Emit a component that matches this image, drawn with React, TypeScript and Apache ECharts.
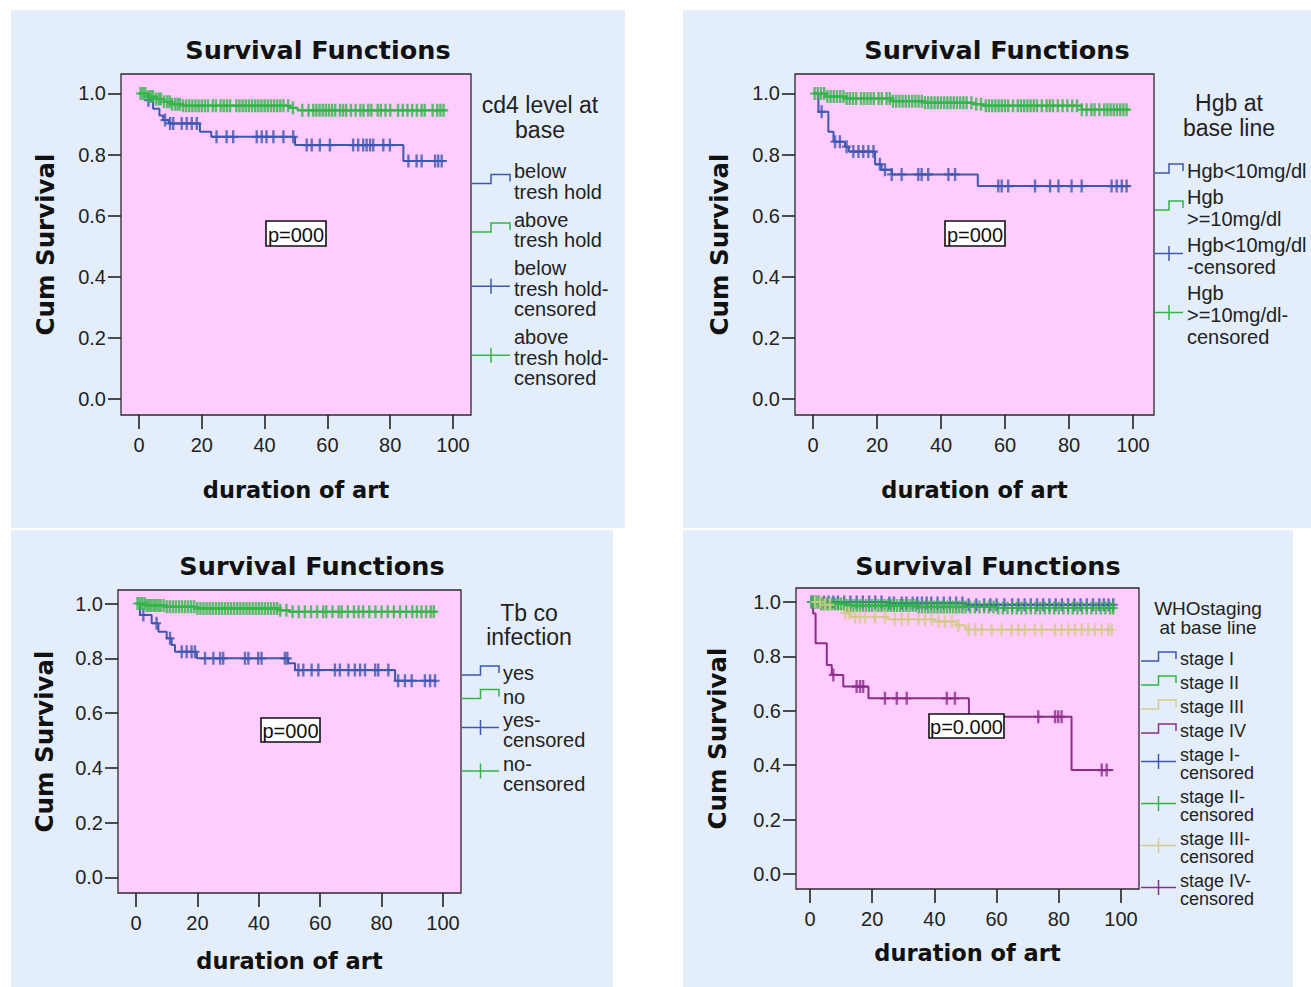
import React, { useEffect, useRef } from "react";
import * as echarts from "echarts";

type Step = [number, number];

// ---------------- data ----------------
const xTicks = [0, 20, 40, 60, 80, 100];
const yTicks = [0, 0.2, 0.4, 0.6, 0.8, 1.0];

// Panel 1: cd4 level at base
const cd4Legend = ["below\ntresh hold", "above\ntresh hold", "below\ntresh hold-\ncensored", "above\ntresh hold-\ncensored"];
const cd4BelowSteps: Step[] = [[0, 1], [3, 0.978], [4.5, 0.95], [6.5, 0.928], [7.7, 0.913], [9.5, 0.902], [19.4, 0.875], [23, 0.858], [49.7, 0.831], [84.2, 0.779], [98, 0.779]];
const cd4AboveSteps: Step[] = [[0, 1], [3, 0.99], [5.5, 0.982], [8, 0.973], [10.5, 0.965], [14, 0.96], [48, 0.953], [50.5, 0.945], [98, 0.945]];
const cd4BelowCensored = [3.0, 8.3, 9.9, 10.9, 13.6, 15.2, 16.8, 18.4, 24.7, 27.9, 30.0, 37.5, 39.1, 40.6, 42.8, 46.0, 49.1, 53.4, 55.0, 57.6, 60.8, 68.2, 69.8, 71.4, 72.5, 73.6, 74.6, 77.8, 79.9, 85.8, 88.4, 90.0, 94.3, 95.3, 96.4];
const cd4AboveCensored = [0.5, 1.2, 2, 3, 3.8, 4.5, 5.5, 6.3, 7, 8, 9, 9.8, 10.5, 11.5, 12.3, 13, 14, 15, 16, 17, 18, 19, 20, 21, 22, 23.5, 24.5, 26, 27, 28, 29, 31, 32, 33, 34, 35, 36, 37, 38, 39, 40, 41, 42, 43, 44, 45, 46, 47.5, 49, 52, 54, 55.5, 56.5, 57.5, 58.5, 59.5, 60.5, 61.5, 62.5, 64, 65, 66, 67.5, 69, 70.5, 71.5, 73, 74, 76, 77, 78.5, 80, 82.5, 84, 85.5, 87, 88.5, 90, 91, 93.5, 95, 96, 97];

// Panel 2: Hgb at base line
const hgbLegend = ["Hgb<10mg/dl", "Hgb\n>=10mg/dl", "Hgb<10mg/dl\n-censored", "Hgb\n>=10mg/dl-\ncensored"];
const hgbLowSteps: Step[] = [[0, 1], [1.7, 0.94], [4.8, 0.875], [6.4, 0.842], [10, 0.826], [11.2, 0.81], [19.4, 0.768], [21.4, 0.75], [24.6, 0.735], [51.5, 0.697], [99, 0.697]];
const hgbHighSteps: Step[] = [[0, 1], [4, 0.99], [10, 0.984], [25, 0.975], [35, 0.97], [50, 0.965], [53, 0.96], [84, 0.947], [99, 0.947]];
const hgbLowCensored = [2.7, 6.9, 8.4, 10.5, 12.6, 14.2, 15.7, 17.3, 18.9, 20.9, 22.5, 24.6, 27.7, 32.9, 33.95, 36.0, 42.3, 44.4, 57.9, 58.96, 61.0, 69.4, 74.1, 76.7, 80.8, 83.96, 93.3, 94.9, 96.5, 98.0];
const hgbHighCensored = [0.5, 1.5, 2.5, 3.5, 4.5, 5.5, 6.5, 7.5, 8.5, 9.5, 10.5, 11.5, 12.5, 13.5, 15, 16, 17, 18, 19, 20.5, 21.5, 23, 24, 25, 26, 27, 28, 29, 30, 31, 32, 33, 34, 35, 36, 37, 38, 39, 40, 41, 42, 43, 44, 45, 46, 47, 48, 49.5, 51, 52.5, 54, 55, 56, 57, 58, 59, 60, 61, 62.5, 64, 65, 66, 67, 68, 69, 70, 71.5, 73, 74, 75, 76.5, 78, 79.5, 81, 82.5, 84, 85.5, 87, 88, 89.5, 91, 92, 93, 94, 95, 96, 97, 98];

// Panel 3: Tb co infection
const tbLegend = ["yes", "no", "yes-\ncensored", "no-\ncensored"];
const tbYesSteps: Step[] = [[0, 1], [1.3, 0.958], [5.1, 0.928], [7.3, 0.897], [10, 0.873], [11.6, 0.849], [12.7, 0.824], [19.8, 0.8], [49.6, 0.782], [51.8, 0.757], [84.4, 0.718], [98, 0.718]];
const tbNoSteps: Step[] = [[0, 1], [3, 0.993], [10, 0.988], [20, 0.982], [47, 0.975], [50, 0.97], [98, 0.97]];
const tbYesCensored = [2.4, 6.7, 11.1, 14.9, 16.5, 18.1, 19.2, 22.5, 25.2, 27.4, 28.4, 35.5, 36.6, 39.8, 40.9, 48.5, 49.3, 52.9, 54.5, 57.2, 59.4, 64.8, 66.4, 69.2, 71.3, 73.0, 74.6, 77.9, 78.9, 82.2, 85.4, 87.6, 89.8, 94.1, 95.8, 97.4];
const tbNoCensored = [0.5, 1.2, 2, 2.8, 3.5, 4.3, 5, 5.8, 6.5, 7.3, 8, 9, 10, 11, 12, 13, 14, 15, 16, 17, 18, 19, 20, 21, 22, 23, 24, 25, 26, 27, 28, 29, 30, 31, 32, 33, 34, 35, 36, 37, 38, 39, 40, 41, 42, 43, 44, 45, 46, 47, 49, 51, 53, 55, 57, 59, 61, 62, 64, 66, 67, 69, 71, 72.5, 74, 76, 78, 80, 82, 84, 86, 88, 90, 91.5, 93, 94.5, 96, 97];

// Panel 4: WHO staging at base line
const whoLegend = ["stage I", "stage II", "stage III", "stage IV", "stage I-\ncensored", "stage II-\ncensored", "stage III-\ncensored", "stage IV-\ncensored"];
const stage1Steps: Step[] = [[0, 1], [25, 0.996], [50, 0.99], [98, 0.99]];
const stage2Steps: Step[] = [[0, 1], [3, 0.993], [12, 0.987], [35, 0.982], [60, 0.978], [98, 0.978]];
const stage3Steps: Step[] = [[0, 1], [4, 0.99], [8, 0.975], [11, 0.96], [13, 0.945], [25, 0.937], [40, 0.928], [47, 0.915], [50, 0.898], [97, 0.898]];
const stage4Steps: Step[] = [[0, 1], [1, 0.958], [1.8, 0.848], [5.4, 0.768], [7, 0.732], [10.7, 0.689], [18.8, 0.646], [51.1, 0.578], [84.1, 0.382], [97.5, 0.382]];
const stage1Censored = [0.5, 1.5, 3, 4.5, 6, 7.5, 9, 11, 13, 15, 17, 19, 21, 23, 25.5, 27, 29.5, 31, 33, 34.5, 36, 37.5, 39, 41, 43, 45, 47, 49, 51, 53.5, 56, 58, 60, 62.5, 65, 67, 69, 71, 73, 75, 77, 79, 81, 83, 85, 87, 89, 91, 93, 94.5, 96, 97.5];
const stage2Censored = [0.5, 1.2, 2, 2.8, 3.6, 4.4, 5.2, 6, 7, 8, 9, 10, 11, 12, 13, 14, 15, 16, 17, 18, 19, 20, 21, 22, 23, 24, 25, 26, 27, 28, 29, 30, 31, 32, 33, 34, 35, 36, 37, 38, 39, 40, 41, 42, 43, 44, 45, 46, 47, 48, 49, 50, 51.5, 53, 54.5, 56, 57.5, 59, 60.5, 62, 63.5, 65, 66.5, 68, 69.5, 71, 72.5, 74, 75.5, 77, 78.5, 80, 81.5, 83, 84.5, 86, 87.5, 89, 90.5, 92, 93.5, 95, 96.5, 97.5];
const stage3Censored = [1.6, 3.2, 4.8, 6.4, 11.3, 12.5, 14.5, 16, 17.7, 20.9, 24.1, 27.3, 29.5, 31.6, 34.9, 37.0, 39.1, 41.3, 43.4, 45.6, 47.7, 51, 53.1, 55.2, 58.4, 61.6, 64.8, 67.0, 69.1, 72.3, 74.5, 78.8, 80.9, 83.1, 85.2, 87.4, 89.5, 91.6, 93.8, 95.9, 97];
const stage4Censored = [7.5, 15.0, 16.1, 17.1, 24.1, 27.9, 31.1, 44.0, 46.6, 73.4, 78.8, 79.8, 80.9, 93.8, 95.4];

// ---------------- styling / layout ----------------
const BLUE = "#3E58AE";
const GREEN = "#33B548";
const KHAKI = "#D3CB8C";
const PURPLE = "#8A2E8A";
const PANEL_BG = "#E3EEFA";
const PLOT_BG = "#FFCCFF";
const SANS = '"Liberation Sans", Arial, sans-serif';
const BOLD = '"DejaVu Sans", Verdana, sans-serif';
const PLUS = "path://M3.4,0h2.4v13h-2.4z M0,5.4h9.2v2.2h-9.2z";

const survAt = (steps: Step[], t: number) => {
  let s = steps[0][1];
  for (const [x, y] of steps) {
    if (x <= t) s = y;
    else break;
  }
  return s;
};

interface Panel {
  bg: [number, number, number, number];
  frame: [number, number, number, number];
  xr: [number, number];
  yr: [number, number];
  title: [number, number];
  xGap: number;
  yGap: number;
  legTitle: { text: string; x: number; y: number; size: number; lh: number };
  leg: { left: number; top: number; w: number; lh: number; gap: number; size: number };
  pBox: { text: string; x: number; y: number; w: number; h: number };
}

const panels: Panel[] = [
  {
    bg: [11, 10, 614, 518], frame: [121, 74, 350, 341], xr: [-5.73, 105.73], yr: [-0.0524, 1.0638],
    title: [318, 50], xGap: 63, yGap: 63,
    legTitle: { text: "cd4 level at\nbase", x: 540, y: 117.5, size: 23, lh: 25 },
    leg: { left: 472, top: 161, w: 38, lh: 20.5, gap: 7.5, size: 20 },
    pBox: { text: "p=000", x: 266, y: 221, w: 60, h: 25 },
  },
  {
    bg: [683, 10, 628, 518], frame: [795, 74, 359, 341], xr: [-5.625, 106.56], yr: [-0.0524, 1.0638],
    title: [997, 50], xGap: 63, yGap: 63,
    legTitle: { text: "Hgb at\nbase line", x: 1229, y: 115.5, size: 23, lh: 25 },
    leg: { left: 1155, top: 160, w: 28, lh: 22, gap: 4, size: 20 },
    pBox: { text: "p=000", x: 945, y: 221, w: 60, h: 25 },
  },
  {
    bg: [11, 530, 602, 457], frame: [118, 590, 343, 303], xr: [-5.86, 105.86], yr: [-0.0566, 1.0493],
    title: [312, 566], xGap: 56, yGap: 61,
    legTitle: { text: "Tb co\ninfection", x: 529, y: 625, size: 23, lh: 24 },
    leg: { left: 462, top: 663, w: 37, lh: 20, gap: 3.5, size: 20 },
    pBox: { text: "p=000", x: 261, y: 718, w: 59, h: 24 },
  },
  {
    bg: [683, 530, 610, 457], frame: [796, 588, 343, 301], xr: [-4.5, 105.79], yr: [-0.0551, 1.0515],
    title: [988, 566], xGap: 52, yGap: 66,
    legTitle: { text: "WHOstaging\nat base line", x: 1208, y: 617.5, size: 19, lh: 19 },
    leg: { left: 1141, top: 650, w: 35, lh: 18, gap: 6, size: 18 },
    pBox: { text: "p=0.000", x: 929, y: 714, w: 75, h: 24 },
  },
];

const groups = [
  { labels: cd4Legend, steps: [cd4BelowSteps, cd4AboveSteps], cens: [cd4BelowCensored, cd4AboveCensored], colors: [BLUE, GREEN] },
  { labels: hgbLegend, steps: [hgbLowSteps, hgbHighSteps], cens: [hgbLowCensored, hgbHighCensored], colors: [BLUE, GREEN] },
  { labels: tbLegend, steps: [tbYesSteps, tbNoSteps], cens: [tbYesCensored, tbNoCensored], colors: [BLUE, GREEN] },
  {
    labels: whoLegend,
    steps: [stage1Steps, stage2Steps, stage3Steps, stage4Steps],
    cens: [stage1Censored, stage2Censored, stage3Censored, stage4Censored],
    colors: [BLUE, GREEN, KHAKI, PURPLE],
  },
];

function buildOption() {
  const grid: any[] = [];
  const xAxis: any[] = [];
  const yAxis: any[] = [];
  const series: any[] = [];
  const graphic: any[] = [];

  panels.forEach((p, i) => {
    graphic.push({
      type: "rect", z: -10, silent: true,
      shape: { x: p.bg[0], y: p.bg[1], width: p.bg[2], height: p.bg[3] },
      style: { fill: PANEL_BG },
    });
    grid.push({
      left: p.frame[0], top: p.frame[1], width: p.frame[2], height: p.frame[3],
      show: true, backgroundColor: PLOT_BG, borderColor: "#2b2b2b", borderWidth: 1.3,
    });
    xAxis.push({
      gridIndex: i, type: "value", min: p.xr[0], max: p.xr[1],
      axisLine: { show: false, onZero: false },
      axisTick: { show: true, length: 14, customValues: xTicks, lineStyle: { color: "#222", width: 1.6 } },
      axisLabel: { customValues: xTicks, margin: 20, fontSize: 20, color: "#222", fontFamily: SANS },
      splitLine: { show: false },
      name: "duration of art", nameLocation: "middle", nameGap: p.xGap,
      nameTextStyle: { fontSize: 22.5, fontWeight: "bold", fontFamily: BOLD, color: "#111" },
    });
    yAxis.push({
      gridIndex: i, type: "value", min: p.yr[0], max: p.yr[1],
      axisLine: { show: false, onZero: false },
      axisTick: { show: true, length: 13, customValues: yTicks, lineStyle: { color: "#222", width: 1.6 } },
      axisLabel: {
        customValues: yTicks, margin: 15, fontSize: 20, color: "#222", fontFamily: SANS,
        formatter: (v: number) => v.toFixed(1),
      },
      splitLine: { show: false },
      name: "Cum Survival", nameLocation: "middle", nameGap: p.yGap,
      nameTextStyle: { fontSize: 24.5, fontWeight: "bold", fontFamily: BOLD, color: "#111" },
    });

    const g = groups[i];
    const n = g.steps.length;
    g.steps.forEach((st, k) => {
      series.push({
        type: "line", name: g.labels[k].replace(/\n/g, " "), xAxisIndex: i, yAxisIndex: i,
        step: "end", data: st, symbol: "none", silent: true, z: 2,
        lineStyle: { color: g.colors[k], width: 2 }, itemStyle: { color: g.colors[k] },
      });
    });
    g.cens.forEach((c, k) => {
      series.push({
        type: "scatter", name: g.labels[n + k].replace(/\n/g, " "), xAxisIndex: i, yAxisIndex: i,
        data: c.map((t) => [t, survAt(g.steps[k], t)]), symbol: PLUS, symbolSize: [9.2, 13],
        silent: true, z: 3, itemStyle: { color: g.colors[k] },
      });
    });

    // titles
    graphic.push({
      type: "text", z: 50, silent: true,
      style: { text: "Survival Functions", x: p.title[0], y: p.title[1], align: "center", verticalAlign: "middle", fontSize: 25.5, fontWeight: "bold", fontFamily: BOLD, fill: "#111" },
    });
    graphic.push({
      type: "text", z: 50, silent: true,
      style: { text: p.legTitle.text, x: p.legTitle.x, y: p.legTitle.y, align: "center", verticalAlign: "middle", fontSize: p.legTitle.size, lineHeight: p.legTitle.lh, fontFamily: SANS, fill: "#222" },
    });

    // legend
    let y = p.leg.top;
    g.labels.forEach((lab, k) => {
      const lines = lab.split("\n").length;
      const h = lines * p.leg.lh;
      const mid = y + h / 2 - 2.5;
      const color = g.colors[k % n];
      const L = p.leg.left;
      const w = p.leg.w;
      if (k < n) {
        graphic.push({
          type: "polyline", z: 50, silent: true,
          shape: { points: [[L, mid + 4.5], [L + w / 2, mid + 4.5], [L + w / 2, mid - 4.5], [L + w, mid - 4.5], [L + w, mid + 2.5]] },
          style: { stroke: color, lineWidth: 1.5, fill: null },
        });
      } else {
        graphic.push({
          type: "line", z: 50, silent: true,
          shape: { x1: L, y1: mid, x2: L + w, y2: mid },
          style: { stroke: color, lineWidth: 1.5 },
        });
        graphic.push({
          type: "line", z: 50, silent: true,
          shape: { x1: L + w / 2, y1: mid - 7.5, x2: L + w / 2, y2: mid + 7.5 },
          style: { stroke: color, lineWidth: 1.5 },
        });
      }
      graphic.push({
        type: "text", z: 50, silent: true,
        style: { text: lab, x: L + w + 4, y, align: "left", verticalAlign: "top", fontSize: p.leg.size, lineHeight: p.leg.lh, fontFamily: SANS, fill: "#222" },
      });
      y += h + p.leg.gap;
    });

    // p-value box
    graphic.push({
      type: "rect", z: 60, silent: true,
      shape: { x: p.pBox.x, y: p.pBox.y, width: p.pBox.w, height: p.pBox.h },
      style: { fill: "#ffffff", stroke: "#111", lineWidth: 1.6 },
    });
    graphic.push({
      type: "text", z: 61, silent: true,
      style: { text: p.pBox.text, x: p.pBox.x + p.pBox.w / 2, y: p.pBox.y + p.pBox.h / 2 + 1, align: "center", verticalAlign: "middle", fontSize: 20, fontFamily: SANS, fill: "#111" },
    });
  });

  return { animation: false, backgroundColor: "#ffffff", grid, xAxis, yAxis, series, graphic };
}

export default function App() {
  const ref = useRef<HTMLDivElement>(null);
  useEffect(() => {
    if (!ref.current) return;
    const chart = echarts.init(ref.current, undefined, { renderer: "svg" });
    chart.setOption(buildOption() as any);
    return () => chart.dispose();
  }, []);
  return <div ref={ref} style={{ position: "absolute", left: 0, top: 0, width: 1311, height: 987 }} />;
}
